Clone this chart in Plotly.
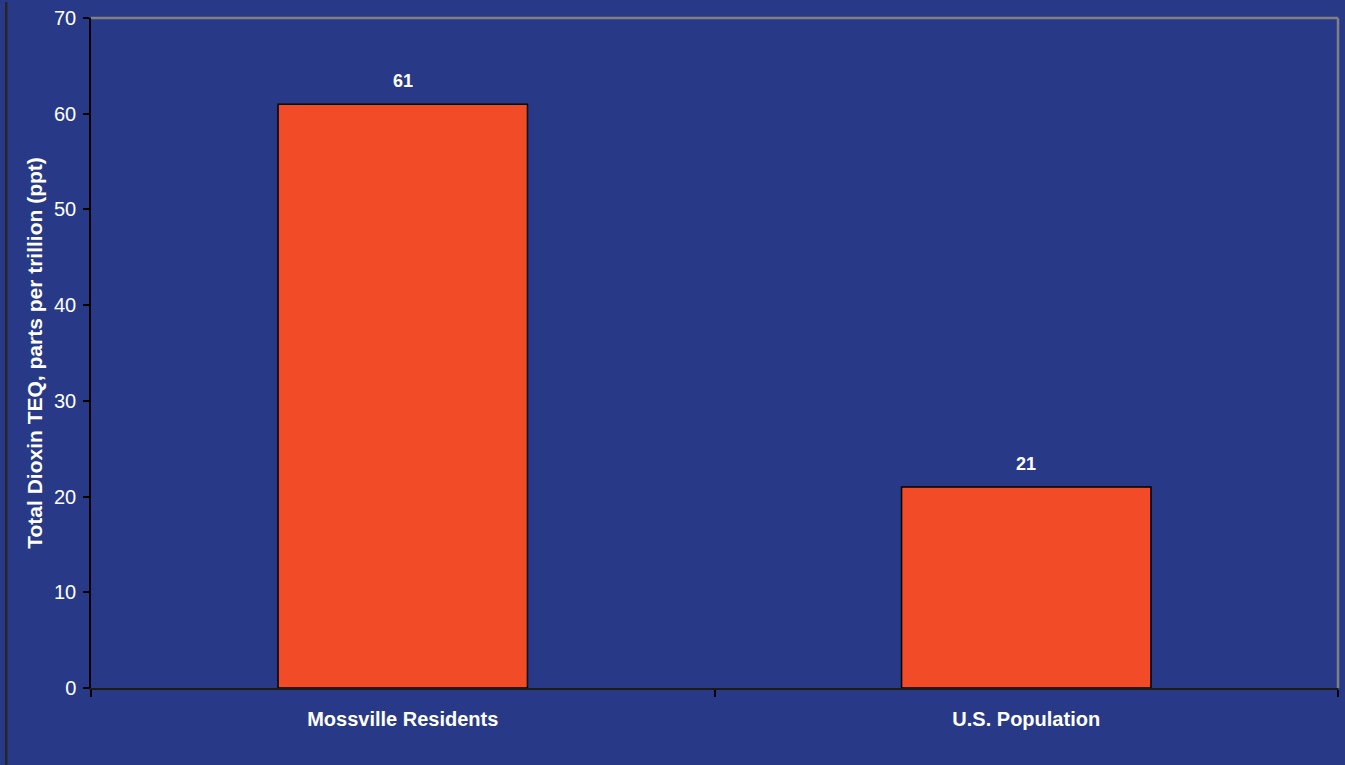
import plotly.graph_objects as go

categories = ["Mossville Residents", "U.S. Population"]
values = [61, 21]
labels = ["61", "21"]

BG = "#283a87"
BAR = "#f24b27"
FONT = "Liberation Sans, Arial"

fig = go.Figure(go.Bar(
    x=categories, y=values,
    marker=dict(color=BAR, line=dict(color="black", width=1.5)),
    width=0.4, hoverinfo="skip",
))

annotations = [
    dict(x=c, y=v, text=t, showarrow=False, yanchor="bottom", yshift=11,
         font=dict(family=FONT, size=18, color="white", weight="bold"))
    for c, v, t in zip(categories, values, labels)
]

fig.update_layout(
    width=1345, height=765,
    margin=dict(l=91, r=7, t=16, b=77),
    paper_bgcolor=BG, plot_bgcolor=BG,
    showlegend=False,
    font=dict(family=FONT, color="white"),
    annotations=annotations,
    xaxis=dict(
        showline=True, linecolor="#1a1a1a", linewidth=2,
        ticks="outside", tickson="boundaries", ticklen=7, tickcolor="black", tickwidth=1.5,
        tickfont=dict(size=20, color="white", weight="bold"),
        ticklabelstandoff=12,
        showgrid=False,
    ),
    yaxis=dict(
        range=[0, 70], dtick=10,
        showline=True, linecolor="black", linewidth=1.5,
        ticks="outside", ticklen=6, tickcolor="black", tickwidth=1.5,
        tickfont=dict(size=20, color="white"),
        ticklabelstandoff=3,
        showgrid=False, zeroline=False,
        title=dict(text="Total Dioxin TEQ, parts per trillion (ppt)",
                   font=dict(size=21, color="white", weight="bold"), standoff=6),
    ),
    shapes=[
        dict(type="line", xref="paper", yref="paper", x0=0, x1=1, y0=1, y1=1,
             line=dict(color="#808080", width=2.5)),
        dict(type="line", xref="paper", yref="paper", x0=1, x1=1, y0=0, y1=1,
             line=dict(color="#808080", width=2.5)),
        dict(type="rect", xref="paper", yref="paper",
             x0=(5 - 91) / 1247, x1=(7.5 - 91) / 1247, y0=-77 / 672, y1=16 / 672 + 1,
             line=dict(width=0), fillcolor="#262626"),
    ],
)

fig.write_html("out.html", config={"displayModeBar": False},
               post_script="document.body.style.margin='0';document.body.style.overflow='hidden';")
